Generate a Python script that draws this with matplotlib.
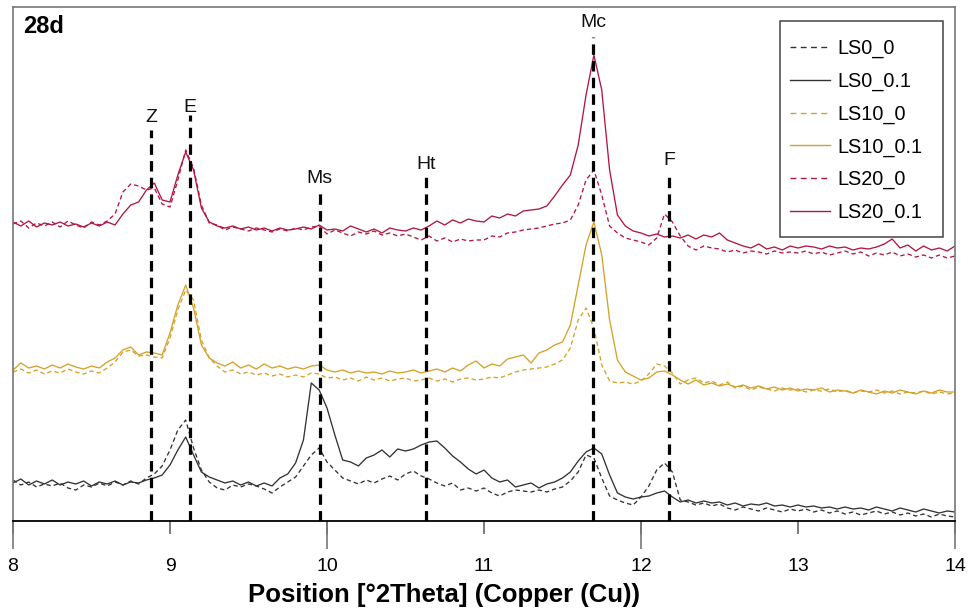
import numpy as np
import matplotlib
matplotlib.use("Agg")
import matplotlib.pyplot as plt
from matplotlib.lines import Line2D
from matplotlib.patches import Rectangle

plt.rcParams["font.family"] = ["Liberation Sans", "DejaVu Sans"]
plt.rcParams["lines.scale_dashes"] = False

# 2theta scan positions (step 0.05)
two_theta = np.round(np.arange(8.0, 14.0001, 0.05), 2)

# stacked intensities (offset a.u.)
ls20_01 = [299, 295, 300, 294, 298, 296, 299, 295, 297, 294, 298, 295, 299, 296, 307, 316, 319, 331, 338, 321,
           319, 346, 369, 351, 313, 299, 295, 293, 295, 292, 294, 291, 293, 290, 293, 291, 292, 294, 292, 296,
           291, 292, 290, 295, 292, 289, 292, 288, 293, 291, 290, 293, 291, 295, 300, 296, 301, 298, 302, 300,
           299, 305, 303, 307, 305, 310, 311, 312, 315, 325, 336, 346, 376, 426, 466, 431, 351, 306, 295, 290,
           288, 285, 287, 284, 285, 283, 286, 282, 286, 284, 288, 281, 278, 275, 273, 277, 272, 274, 271, 275,
           273, 275, 274, 272, 275, 273, 274, 271, 273, 272, 274, 277, 282, 273, 276, 270, 275, 271, 273, 270,
           275]
ls20_0 = [297, 300, 293, 298, 295, 299, 294, 300, 296, 293, 299, 296, 300, 307, 329, 337, 335, 331, 333, 317,
          314, 341, 371, 353, 316, 298, 296, 291, 294, 292, 290, 293, 291, 289, 292, 290, 293, 291, 294, 295,
          287, 291, 288, 285, 289, 287, 290, 286, 288, 285, 287, 284, 281, 285, 280, 283, 279, 282, 280, 281,
          281, 285, 284, 288, 289, 291, 292, 293, 295, 297, 298, 301, 316, 341, 351, 326, 295, 288, 283, 281,
          279, 276, 283, 307, 299, 285, 275, 271, 275, 273, 272, 269, 271, 268, 270, 269, 267, 270, 268, 269,
          268, 270, 267, 269, 266, 268, 270, 267, 269, 265, 268, 266, 269, 265, 267, 264, 266, 263, 266, 263,
          265]
ls10_01 = [151, 158, 153, 155, 152, 156, 153, 157, 154, 152, 155, 153, 159, 163, 171, 174, 166, 169, 168, 166,
           188, 216, 236, 213, 176, 163, 158, 155, 159, 153, 156, 152, 157, 153, 155, 152, 154, 152, 155, 156,
           151, 149, 151, 148, 150, 148, 149, 147, 150, 148, 149, 151, 148, 150, 152, 149, 153, 150, 156, 160,
           153, 157, 155, 162, 164, 166, 158, 168, 171, 176, 179, 196, 236, 276, 299, 266, 201, 161, 149, 145,
           141, 143, 149, 150, 146, 141, 137, 141, 136, 138, 135, 137, 134, 136, 133, 135, 132, 134, 131, 133,
           130, 132, 131, 133, 129, 131, 130, 128, 131, 129, 127, 130, 128, 131, 129, 127, 130, 128, 131, 129,
           129]
ls10_0 = [149, 152, 148, 151, 147, 150, 148, 152, 149, 147, 150, 148, 153, 159, 169, 171, 165, 166, 164, 163,
          183, 211, 231, 221, 181, 163, 155, 149, 151, 147, 149, 146, 148, 145, 147, 144, 146, 144, 148, 147,
          143, 144, 141, 143, 140, 144, 141, 143, 140, 142, 143, 140, 141, 143, 140, 142, 139, 142, 143, 141,
          142, 144, 143, 146, 149, 151, 152, 153, 154, 157, 161, 173, 201, 213, 193, 156, 140, 138, 139, 137,
          140, 147, 157, 155, 148, 137, 141, 143, 138, 140, 136, 139, 133, 135, 131, 134, 132, 130, 133, 131,
          132, 129, 131, 130, 132, 129, 131, 128, 130, 129, 131, 128, 130, 127, 129, 128, 130, 127, 129, 127,
          128]
ls0_01 = [38, 42, 36, 40, 37, 41, 36, 39, 37, 40, 35, 39, 37, 40, 36, 39, 38, 41, 43, 46,
          56, 71, 84, 66, 49, 44, 41, 38, 40, 36, 39, 35, 38, 35, 43, 47, 58, 81, 138, 131,
          113, 86, 61, 59, 55, 63, 66, 71, 64, 72, 70, 72, 76, 79, 80, 73, 65, 59, 52, 47,
          51, 43, 39, 41, 34, 36, 38, 33, 37, 39, 43, 49, 60, 69, 73, 67, 46, 28, 24, 22,
          24, 25, 28, 30, 24, 19, 21, 18, 20, 18, 19, 16, 18, 15, 17, 16, 18, 15, 16, 14,
          16, 14, 15, 13, 14, 12, 14, 12, 13, 11, 14, 12, 10, 13, 11, 9, 12, 10, 8, 10,
          9]
ls0_0 = [41, 36, 39, 34, 37, 35, 38, 33, 31, 36, 34, 38, 35, 39, 36, 40, 37, 43, 47, 55,
         71, 91, 101, 73, 51, 39, 33, 31, 36, 34, 37, 35, 32, 28, 34, 39, 44, 55, 66, 73,
         59, 51, 43, 40, 37, 41, 38, 42, 45, 41, 47, 50, 45, 42, 38, 35, 38, 31, 33, 30,
         33, 28, 25, 29, 31, 30, 29, 31, 29, 32, 34, 40, 49, 66, 63, 43, 25, 21, 18, 16,
         24, 35, 51, 58, 49, 21, 19, 16, 18, 15, 17, 13, 11, 14, 12, 10, 13, 11, 9, 12,
         10, 12, 9, 11, 8, 10, 7, 9, 6, 8, 10, 7, 9, 6, 8, 5, 7, 4, 7, 5,
         4]

series_names = ["LS0_0", "LS0_0.1", "LS10_0", "LS10_0.1", "LS20_0", "LS20_0.1"]
series_values = [ls0_0, ls0_01, ls10_0, ls10_01, ls20_0, ls20_01]

# phase reference lines
phase_labels = ["Z", "E", "Ms", "Ht", "Mc", "F"]
phase_pos = [8.88, 9.127, 9.955, 10.63, 11.694, 12.178]
phase_line_top = [391, 406, 331, 348, 484, 348]
phase_label_y = [399, 409, 338, 352, 494, 356]

xticks = [8, 9, 10, 11, 12, 13, 14]
long_ticks = [8, 10, 12, 14]

BLACK = "#333333"
GOLD = "#d4a22a"
CRIMSON = "#b01842"
colors = [BLACK, BLACK, GOLD, GOLD, CRIMSON, CRIMSON]
styles = ["dashed", "solid"] * 3

W, H = 971, 608
fig = plt.figure(figsize=(W / 100, H / 100), dpi=100)
ax = fig.add_axes([13 / W, 87 / H, 942 / W, 514 / H])

for name, vals, col, sty in zip(series_names, series_values, colors, styles):
    line, = ax.plot(two_theta, vals, color=col, lw=0.95, label=name)
    if sty == "dashed":
        line.set_dashes((3.2, 2.2))

for lab, pos, top, ly in zip(phase_labels, phase_pos, phase_line_top, phase_label_y):
    vl, = ax.plot([pos, pos], [0, top], color="black", lw=2.3, solid_capstyle="butt")
    vl.set_dashes((7.5, 4.5))
    ax.text(pos, ly, lab, ha="center", va="baseline", fontsize=14, color="#111111")

ax.text(0.011, 0.984, "28d", transform=ax.transAxes, ha="left", va="top",
        fontsize=17, fontweight="bold")

ax.set_xlim(8, 14)
ax.set_ylim(0, 514)
ax.set_yticks([])

for side in ["top", "left", "right"]:
    ax.spines[side].set_color("#777777")
    ax.spines[side].set_linewidth(1.2)
ax.spines["bottom"].set_color("black")
ax.spines["bottom"].set_linewidth(1.3)
ax.spines["bottom"].set_zorder(3)

ax.set_xticks(xticks)
ax.set_xticklabels([str(t) for t in xticks])
ax.tick_params(axis="x", which="major", direction="out", length=9.5, width=1.2,
               color="#666666", labelsize=14, pad=17)
# longer ticks at even positions, dropping to the bottom of the frame
for t in long_ticks:
    ax.plot([t, t], [0, -28 / 514], transform=ax.get_xaxis_transform(), color="#777777",
            lw=1.2, clip_on=False, solid_capstyle="butt")

fig.text(444 / W, 1 - 595 / H, "Position [°2Theta] (Copper (Cu))", ha="center", va="center",
         fontsize=18.5, fontweight="bold")

handles = []
for name, col, sty in zip(series_names, colors, styles):
    h = Line2D([], [], color=col, lw=1.0)
    if sty == "dashed":
        h.set_dashes((4.2, 3.2))
    handles.append(h)
ax.add_patch(Rectangle((780 / W, 1 - 237 / H), 163 / W, 216 / H, transform=fig.transFigure,
                       facecolor="white", edgecolor="#444444", linewidth=1.1, zorder=4, clip_on=False))
leg = ax.legend(handles, series_names, loc="upper left", bbox_to_anchor=(790 / W, 1 - 39 / H),
                bbox_transform=fig.transFigure, fontsize=14.3, frameon=False,
                borderpad=0, labelspacing=0.68, handlelength=2.0, handletextpad=0.4,
                borderaxespad=0)
leg.set_zorder(5)

fig.savefig("out.png", dpi=100)
